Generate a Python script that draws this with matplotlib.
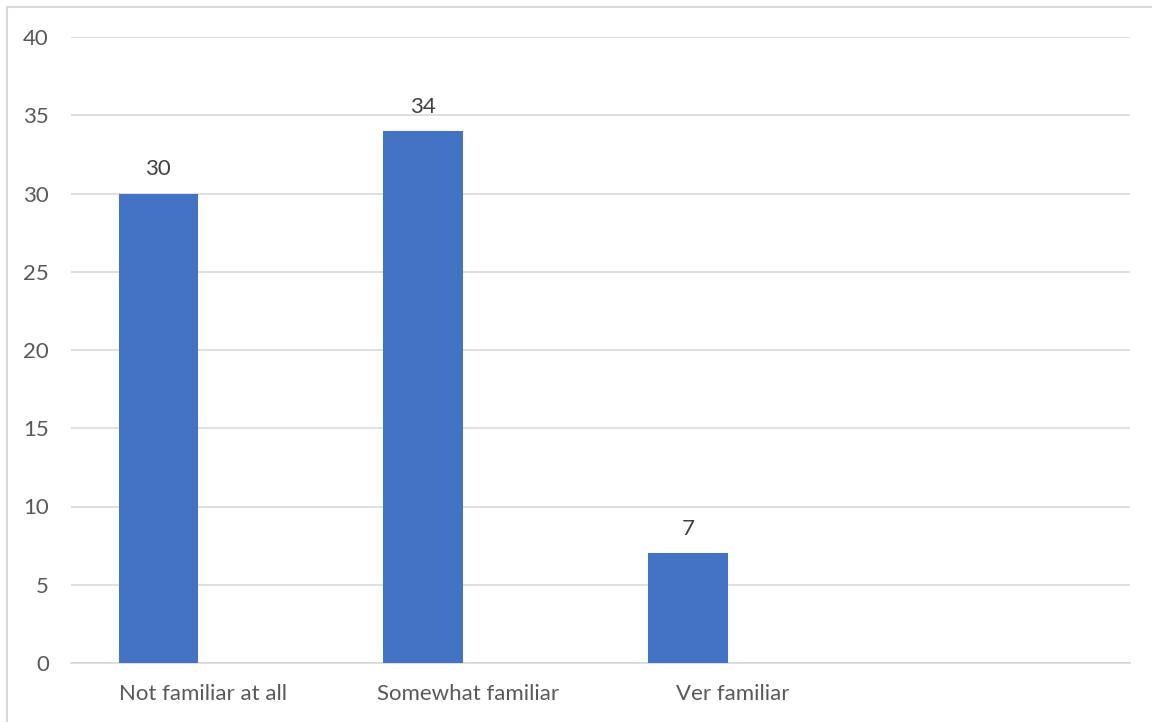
import matplotlib
matplotlib.use("Agg")
import matplotlib.pyplot as plt
from matplotlib.patches import Rectangle

# data
categories = ["Not familiar at all", "Somewhat familiar", "Ver familiar", ""]
counts = [30, 34, 7, None]
yticks = [0, 5, 10, 15, 20, 25, 30, 35, 40]

plt.rcParams["font.family"] = ["Lato", "DejaVu Sans"]

fig = plt.figure(figsize=(11.52, 7.22), dpi=100)
ax = fig.add_axes([71 / 1152, 59 / 722, 1059 / 1152, 626 / 722])

# outer border like the Excel chart frame
fig.patches.append(Rectangle((7 / 1152, -0.01), 1.1, (722 - 7) / 722 + 0.01,
                             transform=fig.transFigure, fill=False,
                             edgecolor="#d9d9d9", linewidth=1.5))

# clustered layout: the counts series sits left of the category centre
# (the second series in the original sheet is empty)
bar_w = 0.30
offset = -0.17
x = list(range(len(categories)))
xs = [xi + offset for xi in x]
vals = [v if v is not None else 0 for v in counts]
ax.bar(xs, vals, width=bar_w, color="#4472c4", zorder=3)

for xi, v in zip(xs, counts):
    if v is not None:
        ax.text(xi, v + 0.9, str(v), ha="center", va="bottom",
                fontsize=16, color="#404040")

ax.set_xlim(-0.5, len(categories) - 0.5)
ax.set_ylim(0, 40)
ax.set_yticks(yticks)
ax.set_xticks(x)
ax.set_xticklabels(categories)
ax.grid(axis="y", color="#d9d9d9", linewidth=1.2, zorder=0)
for s in ["top", "right", "left"]:
    ax.spines[s].set_visible(False)
ax.spines["bottom"].set_color("#d9d9d9")
ax.spines["bottom"].set_linewidth(1.2)
ax.tick_params(length=0, labelsize=16, labelcolor="#595959")
ax.tick_params(axis="y", pad=16)
ax.tick_params(axis="x", pad=15)

fig.savefig("out.png", dpi=100)
